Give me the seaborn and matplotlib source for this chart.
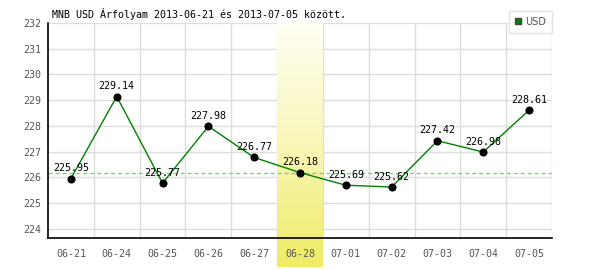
import numpy as np
import pandas as pd
import matplotlib
matplotlib.use("Agg")
import matplotlib.pyplot as plt
import seaborn as sns
from matplotlib.lines import Line2D
from matplotlib.colors import LinearSegmentedColormap

dates = ["06-21", "06-24", "06-25", "06-26", "06-27", "06-28",
         "07-01", "07-02", "07-03", "07-04", "07-05"]
values = [225.95, 229.14, 225.77, 227.98, 226.77, 226.18,
          225.69, 225.62, 227.42, 226.98, 228.61]
highlight = "06-28"
ref_value = 226.18
yticks = [224, 225, 226, 227, 228, 229, 230, 231, 232]
title = "MNB USD Árfolyam 2013-06-21 és 2013-07-05 között."

df = pd.DataFrame({"date": dates, "value": values})
df["pos"] = np.arange(len(dates))

sns.set_style("white")
plt.rcParams["font.family"] = ["DejaVu Sans Mono", "DejaVu Sans"]

fig = plt.figure(figsize=(6, 2.7), dpi=100)
ax = fig.add_axes([48/600, 1-238.3/270, 504/600, (238.3-23)/270])
ax.set_axisbelow(False)

ymin, ymax = 223.625, 232.0
xmin, xmax = -0.5, len(dates) - 0.5

# grid
for b in np.arange(0.5, len(dates) - 0.4, 1.0):
    ax.axvline(b, color="#dddddd", lw=1, zorder=0.5)
for t in yticks:
    ax.axhline(t, color="#dddddd", lw=1, zorder=0.5)

# highlight band gradient
hi = dates.index(highlight)
cmap = LinearSegmentedColormap.from_list("yb", ["#fffff4", "#f8f6b8", "#f0ec64"])
grad = np.linspace(0, 1, 256).reshape(-1, 1)
band_bottom = ymin - (267 - 238.3) / 25.6
ax.imshow(grad, cmap=cmap, aspect="auto", origin="upper",
          extent=[hi - 0.5, hi + 0.5, band_bottom, ymax],
          zorder=1, clip_on=False)

ax.axhline(ref_value, color="#88cc88", lw=1, ls=(0, (3, 2)), zorder=1.5)

sns.lineplot(data=df, x="pos", y="value", color="#008000", lw=1, ax=ax, zorder=2)
sns.scatterplot(data=df, x="pos", y="value", color="black", s=34,
                edgecolor="black", linewidth=0, ax=ax, zorder=3)

for x, v in zip(df["pos"], df["value"]):
    ax.annotate(f"{v:.2f}", (x, v), xytext=(0, 7.5), textcoords="offset points",
                ha="center", va="center", fontsize=7.2, color="black", zorder=4)

ax.set_xlim(xmin, xmax)
ax.set_ylim(ymin, ymax)
ax.set_xticks(df["pos"])
ax.set_xticklabels(dates)
ax.set_yticks(yticks)
ax.set_yticklabels([str(t) for t in yticks])
ax.tick_params(axis="both", length=0, labelsize=7.2, labelcolor="#555555")
ax.tick_params(axis="x", pad=8)
ax.tick_params(axis="y", pad=5)
ax.xaxis.set_zorder(2.5)
ax.yaxis.set_zorder(2.5)
ax.set_xlabel("")
ax.set_ylabel("")
for s in ["top", "right"]:
    ax.spines[s].set_visible(False)
for s in ["left", "bottom"]:
    ax.spines[s].set_color("black")
    ax.spines[s].set_linewidth(1.2)
    ax.spines[s].set_zorder(2.6)
ax.patch.set_alpha(0)

fig.text(52/600, 1-14/270, title, ha="left", va="center", fontsize=7.2,
         color="black")

handle = Line2D([], [], marker="s", color="none", markerfacecolor="#008000",
                markeredgecolor="#444444", markersize=5)
leg = fig.legend([handle], ["USD"], loc="upper right",
                 bbox_to_anchor=(552/600, 1-11/270), frameon=True,
                 fancybox=False, fontsize=7, handlelength=0.8,
                 handletextpad=0.3, borderpad=0.6, borderaxespad=0)
leg.get_frame().set_edgecolor("#dddddd")
leg.get_frame().set_linewidth(1)
for t in leg.get_texts():
    t.set_color("#555555")
    t.set_family("DejaVu Sans")

fig.savefig("out.png", dpi=100)
